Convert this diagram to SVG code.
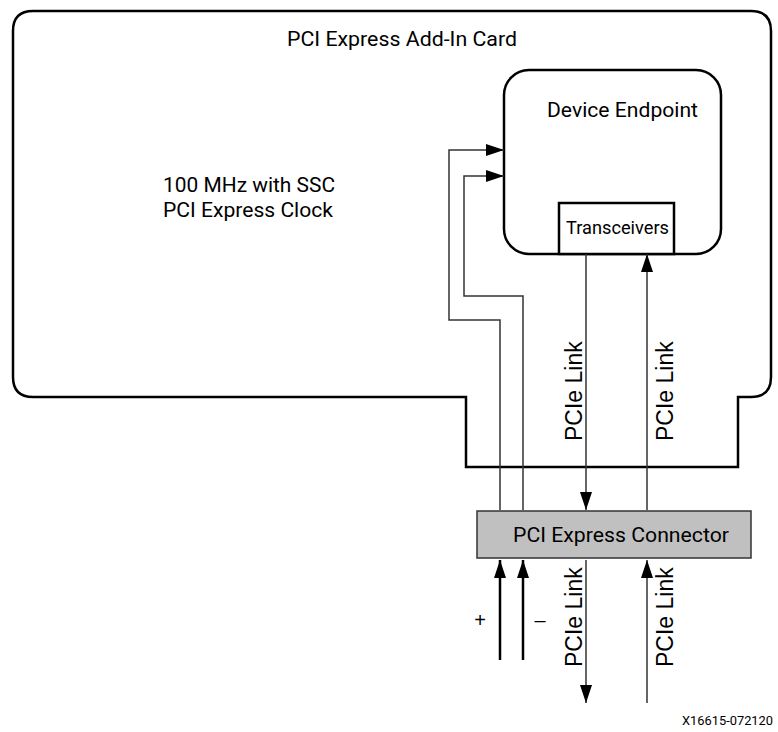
<svg xmlns="http://www.w3.org/2000/svg" width="778" height="732" viewBox="0 0 778 732">
<style>
.t{font-family:Roboto,"Liberation Sans",sans-serif;fill:#000}
.a{font-family:"Liberation Sans",Arial,sans-serif;fill:#000}
.thick{fill:none;stroke:#000;stroke-width:2.5}
.thin{fill:none;stroke:#333;stroke-width:1.5}
.bold{fill:none;stroke:#000;stroke-width:2.5}
</style>
<defs>
<marker id="ah" markerUnits="userSpaceOnUse" markerWidth="18" markerHeight="12" refX="18" refY="6" orient="auto">
<path d="M0,0 L18,6 L0,12 Z" fill="#000"/>
</marker>
</defs>
<rect width="778" height="732" fill="#fff"/>
<g id="card">
<path class="thick" d="M33,11 H751 Q771,11 771,31 V377 Q771,397 751,397 H738 V467 H466 V397 H33 Q13,397 13,377 V31 Q13,11 33,11 Z"/>
<text class="t" x="287" y="46" font-size="20.5" textLength="230" lengthAdjust="spacingAndGlyphs">PCI Express Add-In Card</text>
<text class="t" x="163" y="192" font-size="20" textLength="172" lengthAdjust="spacingAndGlyphs">100 MHz with SSC</text>
<text class="t" x="163" y="217" font-size="20" textLength="170" lengthAdjust="spacingAndGlyphs">PCI Express Clock</text>
</g>
<g id="endpoint">
<rect class="thick" x="504" y="70" width="217" height="184" rx="25" ry="25"/>
<text class="t" x="547" y="117" font-size="20.5" textLength="151" lengthAdjust="spacingAndGlyphs">Device Endpoint</text>
</g>
<g id="transceivers">
<rect x="559" y="203" width="115" height="51" fill="#fff" stroke="#000" stroke-width="2.5"/>
<text class="t" x="566" y="234" font-size="17.5" textLength="103" lengthAdjust="spacingAndGlyphs">Transceivers</text>
</g>
<g id="connector">
<rect x="477" y="511" width="274" height="47" fill="#c0c0c0" stroke="#333" stroke-width="1.5"/>
<text class="t" x="513" y="542" font-size="20.5" textLength="216" lengthAdjust="spacingAndGlyphs">PCI Express Connector</text>
</g>
<g id="connectors">
<path class="thin" d="M500,510 V320 H449 V150 H504" marker-end="url(#ah)"/>
<path class="thin" d="M523,510 V296 H464 V176 H504" marker-end="url(#ah)"/>
<path class="thin" d="M586,254 V510" marker-end="url(#ah)"/>
<path class="thin" d="M647,510 V254" marker-end="url(#ah)"/>
<path class="bold" d="M500,660 V560" marker-end="url(#ah)"/>
<path class="bold" d="M523,660 V560" marker-end="url(#ah)"/>
<path class="thin" d="M586,560 V703" marker-end="url(#ah)"/>
<path class="thin" d="M647,703 V560" marker-end="url(#ah)"/>
</g>
<g id="labels">
<text class="a" font-size="23" transform="translate(582,441) rotate(-90)">PCIe Link</text>
<text class="a" font-size="23" transform="translate(673,441) rotate(-90)">PCIe Link</text>
<text class="a" font-size="23" transform="translate(582,667) rotate(-90)">PCIe Link</text>
<text class="a" font-size="23" transform="translate(673,667) rotate(-90)">PCIe Link</text>
<text class="a" x="480" y="627" font-size="20" text-anchor="middle">+</text>
<text class="a" x="540" y="627" font-size="20" text-anchor="middle">–</text>
<text class="t" x="773" y="725" font-size="13.5" text-anchor="end" textLength="91" lengthAdjust="spacingAndGlyphs">X16615-072120</text>
</g>
</svg>
